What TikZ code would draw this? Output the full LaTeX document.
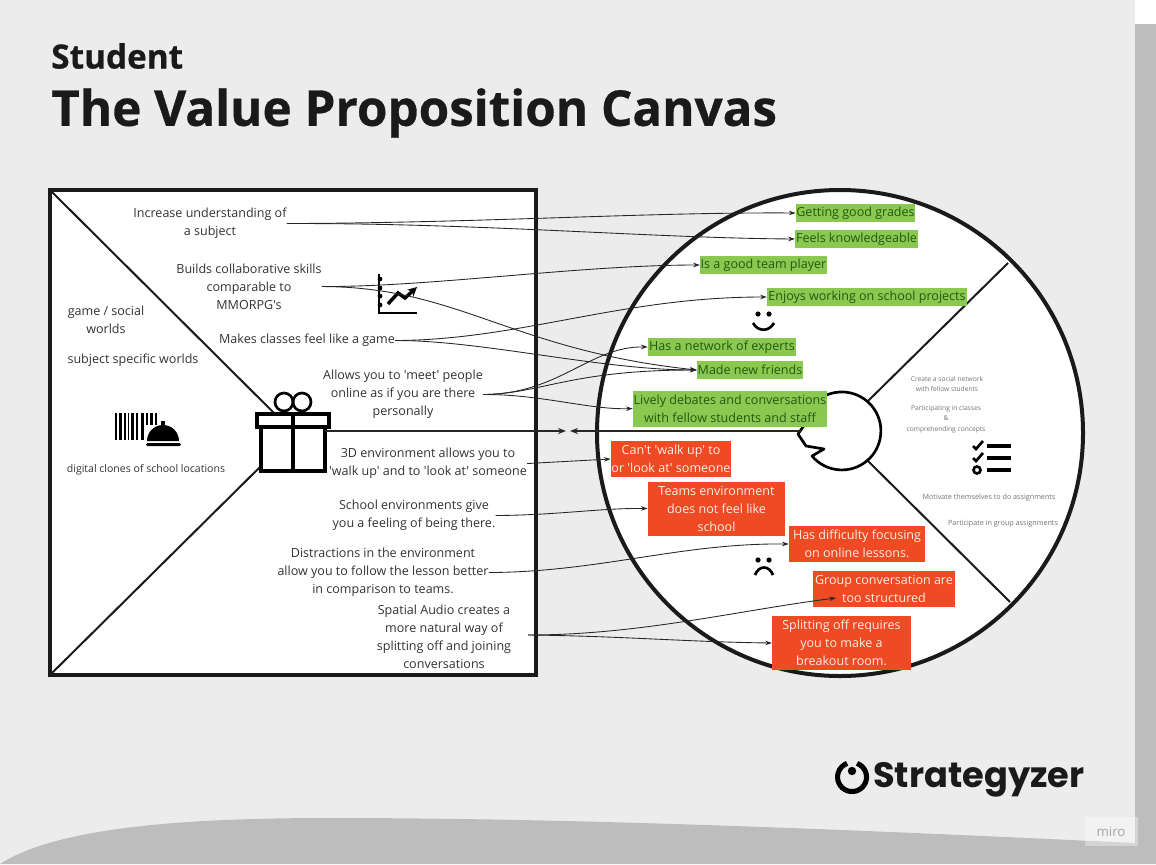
\documentclass[tikz,border=0pt]{standalone}
\usepackage{fontspec}
\usepackage{tikz}
\usetikzlibrary{arrows.meta}
\newfontfamily\opensans{Open Sans}[BoldFeatures={FakeBold=0.6}]
\newfontfamily\plainsans{Open Sans}
\newfontfamily\logofont{Poppins}
\definecolor{sheetgray}{HTML}{ECECEC}
\definecolor{bandgray}{HTML}{BDBDBD}
\definecolor{inkblack}{HTML}{1A1A1A}
\definecolor{gainfill}{HTML}{8BC850}
\definecolor{gaintext}{HTML}{1F5A12}
\definecolor{painfill}{HTML}{EE4B25}
\definecolor{paintext}{HTML}{FDEDE4}

\begin{document}
\begin{tikzpicture}[
    x=0.75pt,y=-0.75pt,
    frame/.style={draw=inkblack,line width=3pt,fill=white},
    divider/.style={draw=inkblack,line width=1.5pt},
    icon/.style={draw=black,line width=2pt},
    claim/.style={font=\plainsans\fontsize{9.4}{13.5}\selectfont,text=black!80,align=center,inner sep=0pt,yshift=-0.4pt},
    tiny/.style={font=\plainsans\fontsize{5.4}{7}\selectfont,text=black!55,align=center,inner sep=0pt},
    gain/.style={font=\plainsans\fontsize{9.4}{13.5}\selectfont,text=gaintext,fill=gainfill,align=center,inner sep=0pt},
    pain/.style={font=\plainsans\fontsize{9.4}{13.5}\selectfont,text=paintext,fill=painfill,align=center,inner sep=0pt},
    link/.style={-{Stealth[length=5pt,width=3.4pt]},draw=black!85,line width=0.65pt},
    fit link/.style={-{Stealth[length=6pt,width=4.5pt]},draw=black!85,line width=1.1pt}
]
\useasboundingbox (0,0) rectangle (1156,864);

% sheet
\fill[white] (0,0) rectangle (1156,864);
\fill[sheetgray] (0,0) rectangle (1135,864);
\fill[bandgray] (1135,24) rectangle (1156,864);
\fill[bandgray] (0,864) .. controls (60,825) and (200,818) .. (330,818) .. controls (600,818) and (900,832) .. (1135,843) -- (1156,864) -- cycle;

% titles
\node[anchor=west,inner sep=0pt,font=\opensans\bfseries\fontsize{25}{28}\selectfont,text=inkblack] (subtitle) at (51,56) {Student};
\node[anchor=west,inner sep=0pt,font=\opensans\bfseries\fontsize{37}{40}\selectfont,text=inkblack] (title) at (51,113) {The Value Proposition Canvas};

% value map
\draw[frame] (50,190) rectangle (536,675);
\coordinate (boxtl) at (50,190);
\coordinate (boxbl) at (50,675);
\draw[divider] (boxtl) -- (275,414);
\draw[divider] (boxbl) -- (261,466);

% customer profile
\draw[frame] (840,433) circle (243);
\coordinate (toprim) at (1008,263);
\coordinate (botrim) at (1010,602);
\draw[divider] (868,401) -- (toprim);
\draw[divider] (868,461) -- (botrim);
\draw[draw=black,line width=2pt,fill=white,line join=round] (812,456) arc[start angle=140,end angle=-135,radius=39]
  -- (803,427) -- (798,434) -- (806,446) -- (824,449) -- cycle;

% gift
\draw[icon,fill=none] (284,402) circle (9);
\draw[icon,fill=none] (302,402) circle (9);
\draw[icon,fill=white,line width=2.4pt] (261,427) rectangle (325,471);
\draw[icon,fill=white,line width=2.4pt] (257,414) rectangle (329,427);
\draw[icon,line width=2.4pt] (293,414) -- (293,471);

% chart
\draw[icon] (379,274) -- (379,313) -- (417,313);
\foreach \ty in {279,288,296,305} {\fill (380,\ty) circle (2.4);}
\draw[icon,-{Stealth[length=7pt,width=7pt]},line width=2.6pt] (388,304) -- (398,293) -- (405,298) -- (417,287);

% barcode and bell
\foreach \bx/\bw in {115/2,119/3,124/2,128/1,131/3,136/2,141/3,146/2,150/3,155/2} {\fill[black] (\bx,413) rectangle ++(\bw,27);}
\fill[white] (145,425) rectangle (182,441);
\fill[black] (147,441) arc[start angle=180,end angle=360,radius=16] -- cycle;
\fill[black] (161,421) rectangle (165,427);
\fill[black,rounded corners=1pt] (146,443) rectangle (181,446);

% smile and frown
\fill (758,314) circle (2.6);
\fill (769,314) circle (2.6);
\draw[icon] (753,323) .. controls (758,332) and (769,332) .. (774,323);
\fill (758,560) circle (2.6);
\fill (769,560) circle (2.6);
\draw[icon] (755,575) .. controls (759,565) and (769,565) .. (773,575);

% checklist
\draw[icon] (973,446) -- (976,449) -- (983,441);
\draw[icon] (973,458) -- (976,461) -- (983,453);
\draw[icon] (977,470) circle (3.5);
\foreach \ly in {446,458,470} {\draw[black,line width=2.6pt] (987,\ly) -- (1011,\ly);}

% products and services
\node[claim] (worlds) at (106,319) {game / social\\worlds};
\node[claim] (subject) at (133,360) {subject specific worlds};
\node[claim,font=\plainsans\fontsize{7.9}{9}\selectfont] (clones) at (146,469) {digital clones of school locations};

% gain creators and pain relievers
\node[claim] (understanding) at (210,223) {Increase understanding of\\a subject};
\node[claim] (skills) at (249,286) {Builds collaborative skills\\comparable to\\MMORPG's};
\node[claim] (classes) at (307,340) {Makes classes feel like a game};
\node[claim] (meet) at (403,394) {Allows you to 'meet' people\\online as if you are there\\personally};
\node[claim] (walkup) at (428,463) {3D environment allows you to\\'walk up' and to 'look at' someone};
\node[claim] (there) at (414,515) {School environments give\\you a feeling of being there.};
\node[claim] (distractions) at (383,572) {Distractions in the environment\\allow you to follow the lesson better\\in comparison to teams.};
\node[claim] (spatial) at (444,636) {Spatial Audio creates a\\more natural way of\\splitting off and joining\\conversations};
\coordinate (spatialout) at (528,635);

% gains
\node[gain,minimum width=89.5pt,minimum height=13pt] (grades) at (855.5,213) {Getting good grades};
\node[gain,minimum width=92pt,minimum height=13pt] (knowledge) at (856.5,239) {Feels knowledgeable};
\node[gain,minimum width=95pt,minimum height=13pt] (player) at (763.5,265) {Is a good team player};
\node[gain,minimum width=150pt,minimum height=13pt] (projects) at (867,297) {Enjoys working on school projects};
\node[gain,minimum width=111pt,minimum height=13pt] (network) at (722,347) {Has a network of experts};
\node[gain,minimum width=79.5pt,minimum height=13pt] (friends) at (750,370) {Made new friends};
\node[gain,minimum width=145.5pt,minimum height=27pt] (debates) at (730,408.5) {Lively debates and conversations\\with fellow students and staff};

% pains
\node[pain,minimum width=90pt,minimum height=26.5pt] (cant) at (671,459) {Can't 'walk up' to\\or 'look at' someone};
\node[pain,minimum width=103pt,minimum height=40.5pt] (teams) at (716.5,508.5) {Teams environment\\does not feel like\\school};
\node[pain,minimum width=102pt,minimum height=27pt] (focus) at (857,544) {Has difficulty focusing\\on online lessons.};
\node[pain,minimum width=106.5pt,minimum height=27pt] (group) at (884,589) {Group conversation are\\too structured};
\node[pain,minimum width=104pt,minimum height=40.5pt] (breakout) at (841.5,643) {Splitting off requires\\you to make a\\breakout room.};
\coordinate (groupin) at (836,598);

% jobs
\node[tiny,font=\plainsans\fontsize{5}{7}\selectfont] (social) at (947,384) {Create a social network\\with fellow students};
\node[tiny,font=\plainsans\fontsize{5}{7.7}\selectfont] (participating) at (946,419) {Participating in classes\\\&\\comprehending concepts};
\node[tiny] (motivate) at (989,498) {Motivate themselves to do assignments};
\node[tiny] (assignments) at (1003,524) {Participate in group assignments};

% connectors
\draw[link] (understanding.east) .. controls (480,223) and (650,212) .. (grades.west);
\draw[link] (understanding.east) .. controls (480,223) and (650,238) .. (knowledge.west);
\draw[link] (skills.east) .. controls (430,287) and (580,265) .. (player.west);
\draw[link] (skills.east) .. controls (460,287) and (510,350) .. (friends.west);
\draw[link] (classes.east) .. controls (520,340) and (620,297) .. (projects.west);
\draw[link] (classes.east) .. controls (480,340) and (600,370) .. (friends.west);
\draw[link] (meet.east) .. controls (560,394) and (590,346) .. (network.west);
\draw[link] (meet.east) .. controls (540,394) and (570,370) .. (friends.west);
\draw[link] (meet.east) .. controls (540,394) and (590,410) .. (debates.west);
\draw[link] (walkup.east) -- (cant.west);
\draw[link] (there.east) .. controls (560,515) and (600,508) .. (teams.west);
\draw[link] (distractions.east) .. controls (600,572) and (680,543) .. (focus.west);
\draw[link] (spatialout) .. controls (640,635) and (740,610) .. (groupin);
\draw[link] (spatialout) .. controls (620,636) and (690,642) .. (breakout.west);

% value fit
\coordinate (fitright) at (566,431);
\coordinate (fitleft) at (570,431);
\coordinate (giftout) at (325,431);
\coordinate (mouth) at (801,431);
\draw[fit link] (giftout) -- (fitright);
\draw[fit link] (mouth) -- (fitleft);

% logo
\draw[black,line width=3.8pt] (857,763.4) arc[start angle=-70,end angle=250,radius=14.5];
\fill[black] (852,771) circle (4.2);
\node[anchor=west,inner sep=0pt,font=\logofont\bfseries\fontsize{26.4}{30}\selectfont,text=inkblack] (logo) at (873,780) {Strategyzer};

% miro badge
\fill[white,opacity=0.35] (1085,817) rectangle (1138,846);
\node[inner sep=0pt,font=\plainsans\fontsize{10}{12}\selectfont,text=black!35] (miro) at (1111,832) {miro};
\end{tikzpicture}
\end{document}
